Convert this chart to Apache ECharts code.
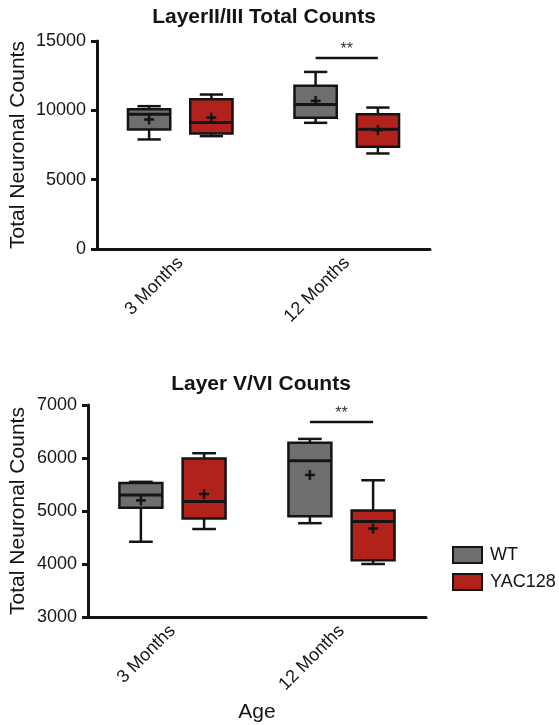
<!DOCTYPE html>
<html><head><meta charset="utf-8">
<script src="https://cdn.jsdelivr.net/npm/echarts@6/dist/echarts.min.js"></script>
<style>html,body{margin:0;padding:0;background:#fff}#c{width:559px;height:725px}</style>
</head><body><div id="c"></div>
<script>
// ---------- data ----------
const categories = ['3 Months', '12 Months'];
const seriesNames = ['WT', 'YAC128'];
// Layer II/III : [low, Q1, median, Q3, high]
const l23WT = [[7900, 8620, 9720, 10080, 10300], [9100, 9460, 10420, 11780, 12770]];
const l23YAC = [[8140, 8330, 9120, 10800, 11140], [6890, 7370, 8640, 9720, 10200]];
const l23WTMean = [9340, 10680];
const l23YACMean = [9480, 8570];
const l23Sig = [[1, 13780]];
const l23Ticks = [0, 5000, 10000, 15000];
// Layer V/VI
const l56WT = [[4420, 5060, 5300, 5530, 5550], [4770, 4900, 5950, 6290, 6360]];
const l56YAC = [[4660, 4860, 5180, 5990, 6090], [4000, 4070, 4800, 5010, 5580]];
const l56WTMean = [5200, 5680];
const l56YACMean = [5320, 4670];
const l56Sig = [[1, 6680]];
const l56Ticks = [3000, 4000, 5000, 6000, 7000];
const sigLabel = '**';

// ---------- style ----------
const FONT = 'Liberation Sans, Arial, Helvetica, sans-serif';
const INK = '#141414';
const GRAY = '#6e6e6e';
const RED = '#b2221d';
const OFF = 0.187, BOXW = 0.254, CAPW = 0.14, PLUS = 5;

function boxData(vals, means) {
  return categories.map((c, i) => [i].concat(vals[i], [means[i]]));
}

function boxRender(side, fill) {
  return function (params, api) {
    const cat = api.value(0);
    const band = api.size([1, 0])[0];
    const cx = api.coord([cat, api.value(3)])[0] + side * OFF * band;
    const y = i => api.coord([cat, api.value(i)])[1];
    const yLow = y(1), yQ1 = y(2), yMed = y(3), yQ3 = y(4), yHigh = y(5), yMean = y(6);
    const bw = BOXW * band, cw = CAPW * band;
    const ls = { stroke: INK, lineWidth: 2.5 };
    const line = (x1, y1, x2, y2, w) => ({ type: 'line', shape: { x1, y1, x2, y2 }, style: Object.assign({}, ls, w ? { lineWidth: w } : {}) });
    return {
      type: 'group',
      children: [
        line(cx, yLow, cx, yQ1),
        line(cx, yQ3, cx, yHigh),
        line(cx - cw / 2, yLow, cx + cw / 2, yLow),
        line(cx - cw / 2, yHigh, cx + cw / 2, yHigh),
        { type: 'rect', shape: { x: cx - bw / 2, y: yQ3, width: bw, height: yQ1 - yQ3 }, style: { fill: fill, stroke: INK, lineWidth: 2.5 } },
        line(cx - bw / 2, yMed, cx + bw / 2, yMed, 3),
        line(cx - PLUS, yMean, cx + PLUS, yMean, 2.5),
        line(cx, yMean - PLUS, cx, yMean + PLUS, 2.5)
      ]
    };
  };
}

function sigRender(params, api) {
  const cat = api.value(0);
  const band = api.size([1, 0])[0];
  const p = api.coord([cat, api.value(1)]);
  const x1 = p[0] - OFF * band, x2 = p[0] + OFF * band;
  return {
    type: 'group',
    children: [
      { type: 'line', shape: { x1, y1: p[1], x2, y2: p[1] }, style: { stroke: INK, lineWidth: 2.5 } },
      { type: 'text', x: p[0], y: p[1] - 8, style: { text: sigLabel, fill: '#333', font: '16px ' + FONT, align: 'center', verticalAlign: 'middle' } }
    ]
  };
}

function xAxis(gi, withName) {
  return {
    type: 'category', gridIndex: gi, data: categories,
    axisLine: { lineStyle: { color: INK, width: 3 } },
    axisTick: { alignWithLabel: true, length: 6, lineStyle: { color: INK, width: 3 } },
    axisLabel: { rotate: 45, margin: 11, fontSize: 18, color: INK, fontFamily: FONT },
    name: withName ? 'Age' : '', nameLocation: 'middle', nameGap: 85, nameMoveOverlap: false,
    nameTextStyle: { fontSize: 21, color: INK, fontFamily: FONT }
  };
}
function yAxis(gi, ticks, gap) {
  return {
    type: 'value', gridIndex: gi,
    min: ticks[0], max: ticks[ticks.length - 1], interval: ticks[1] - ticks[0],
    splitLine: { show: false },
    axisLine: { show: true, lineStyle: { color: INK, width: 3 } },
    axisTick: { show: true, length: 6, lineStyle: { color: INK, width: 3 } },
    axisLabel: { margin: 11, fontSize: 18, color: INK, fontFamily: FONT, formatter: v => String(v) },
    name: 'Total Neuronal Counts', nameLocation: 'middle', nameGap: gap, nameMoveOverlap: false,
    nameTextStyle: { fontSize: 21, color: INK, fontFamily: FONT }
  };
}
function boxSeries(name, gi, side, fill, vals, means) {
  return {
    type: 'custom', name: name, xAxisIndex: gi, yAxisIndex: gi,
    itemStyle: { color: fill, borderColor: INK, borderWidth: 2 },
    renderItem: boxRender(side, fill),
    encode: { x: 0, y: [1, 2, 3, 4, 5, 6] },
    data: boxData(vals, means)
  };
}

const option = {
  animation: false,
  backgroundColor: '#fff',
  title: [
    { text: 'LayerII/III Total Counts', left: 259, top: 2, textAlign: 'center',
      textStyle: { fontSize: 21, fontWeight: 'bold', color: INK, fontFamily: FONT } },
    { text: 'Layer V/VI Counts', left: 256, top: 369, textAlign: 'center',
      textStyle: { fontSize: 21, fontWeight: 'bold', color: INK, fontFamily: FONT } }
  ],
  legend: {
    orient: 'vertical', left: 447, top: 541, itemWidth: 29, itemHeight: 16, itemGap: 9,
    textStyle: { fontSize: 18, color: INK, fontFamily: FONT, padding: [0, 0, 0, 3] },
    data: [
      { name: seriesNames[0], icon: 'rect', itemStyle: { color: GRAY, borderColor: INK, borderWidth: 2 } },
      { name: seriesNames[1], icon: 'rect', itemStyle: { color: RED, borderColor: INK, borderWidth: 2 } }
    ]
  },
  grid: [
    { left: 97, right: 129, top: 41, height: 208, containLabel: false, outerBoundsMode: 'none' },
    { left: 88, right: 133, top: 405, height: 212, containLabel: false, outerBoundsMode: 'none' }
  ],
  xAxis: [xAxis(0, false), xAxis(1, true)],
  yAxis: [yAxis(0, l23Ticks, 68), yAxis(1, l56Ticks, 59)],
  series: [
    boxSeries(seriesNames[0], 0, -1, GRAY, l23WT, l23WTMean),
    boxSeries(seriesNames[1], 0, 1, RED, l23YAC, l23YACMean),
    boxSeries(seriesNames[0], 1, -1, GRAY, l56WT, l56WTMean),
    boxSeries(seriesNames[1], 1, 1, RED, l56YAC, l56YACMean),
    { type: 'custom', xAxisIndex: 0, yAxisIndex: 0, renderItem: sigRender, encode: { x: 0, y: 1 }, data: l23Sig, silent: true },
    { type: 'custom', xAxisIndex: 1, yAxisIndex: 1, renderItem: sigRender, encode: { x: 0, y: 1 }, data: l56Sig, silent: true }
  ]
};
const chart = echarts.init(document.getElementById('c'), null, { renderer: 'canvas' });
chart.setOption(option);
</script></body></html>
